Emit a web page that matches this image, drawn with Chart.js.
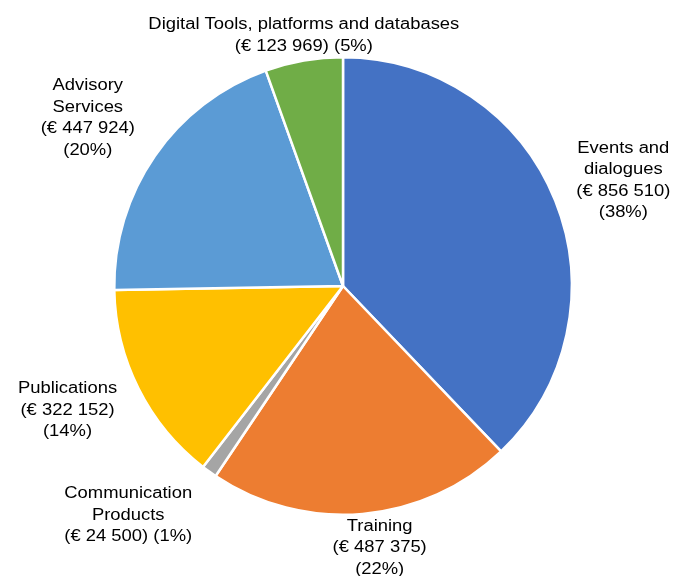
<!DOCTYPE html>
<html>
<head>
<meta charset="utf-8">
<script src="https://cdn.jsdelivr.net/npm/chart.js@4"></script>
<style>
  html, body { margin: 0; padding: 0; background: #fff; }
  #wrap { width: 675px; height: 576px; }
</style>
</head>
<body>
<div id="wrap"><canvas id="myChart" width="675" height="576"></canvas></div>
<script>
// data
var categories = [
  ["Events and", "dialogues"],
  ["Training"],
  ["Communication", "Products"],
  ["Publications"],
  ["Advisory", "Services"],
  ["Digital Tools, platforms and databases"]
];
var amounts = [856510, 487375, 24500, 322152, 447924, 123969];
// how the amount/percent part wraps in each label
var valueLines = [
  ["(€ 856 510)", "(38%)"],
  ["(€ 487 375)", "(22%)"],
  ["(€ 24 500) (1%)"],
  ["(€ 322 152)", "(14%)"],
  ["(€ 447 924)", "(20%)"],
  ["(€ 123 969) (5%)"]
];
var colors = ["#4472C4", "#ED7D31", "#A5A5A5", "#FFC000", "#5B9BD5", "#70AD47"];

// label box centre relative to the outer midpoint of each slice
var labelNudge = [[68, -20], [17, 34], [-81, 44], [-71, 22], [-67, -38], [0, -25]];

var outsideLabels = {
  id: "outsideLabels",
  afterDraw: function (chart) {
    var ctx = chart.ctx;
    var meta = chart.getDatasetMeta(0);
    ctx.save();
    ctx.font = "16px 'Liberation Sans', Arial, sans-serif";
    ctx.fillStyle = "#000";
    ctx.textAlign = "center";
    ctx.textBaseline = "middle";
    var lh = 21.5;
    meta.data.forEach(function (arc, i) {
      var mid = (arc.startAngle + arc.endAngle) / 2;
      var px = arc.x + Math.cos(mid) * arc.outerRadius;
      var py = arc.y + Math.sin(mid) * arc.outerRadius;
      var lines = categories[i].concat(valueLines[i]);
      var cx = px + labelNudge[i][0];
      var cy = py + labelNudge[i][1];
      var top = cy - (lines.length - 1) * lh / 2;
      lines.forEach(function (t, k) {
        // the source text is a little wider than plain Arial
        ctx.save();
        ctx.translate(cx, top + k * lh);
        ctx.scale(1.15, 1);
        ctx.fillText(t, 0, 0);
        ctx.restore();
      });
    });
    ctx.restore();
  }
};

var myChart = new Chart(document.getElementById("myChart"), {
  type: "pie",
  data: {
    labels: categories.map(function (c) { return c.join(" "); }),
    datasets: [{
      data: amounts,
      backgroundColor: colors,
      borderColor: "#fff",
      borderWidth: 2.5
    }]
  },
  options: {
    responsive: false,
    animation: false,
    layout: { padding: { top: 56, bottom: 60, left: 113, right: 102 } },
    plugins: {
      legend: { display: false },
      tooltip: { enabled: false }
    }
  },
  plugins: [outsideLabels]
});
</script>
</body>
</html>
